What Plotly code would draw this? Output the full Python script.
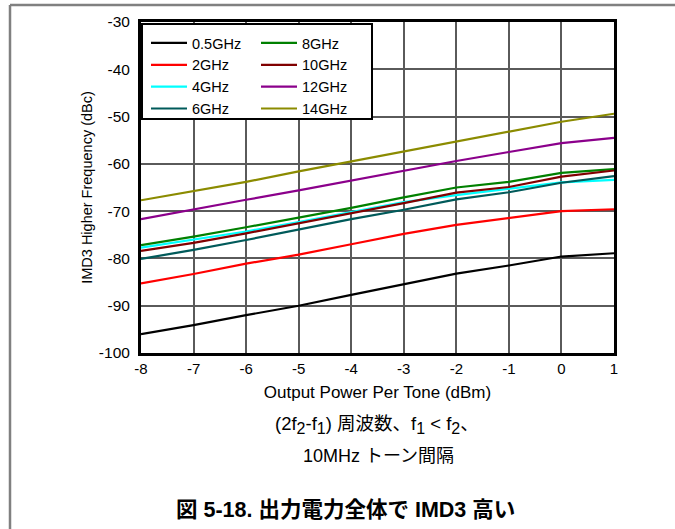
import plotly.graph_objects as go

x_dbm = [-8, -7, -6, -5, -4, -3, -2, -1, 0, 1]

series_names = ["0.5GHz", "2GHz", "4GHz", "6GHz", "8GHz", "10GHz", "12GHz", "14GHz"]
series_colors = ["#000000", "#ff0000", "#00ffff", "#005a5a", "#008000", "#800000", "#8b008b", "#8b8b00"]

imd3_05 = [-96.0, -94.1, -92.0, -90.0, -87.7, -85.4, -83.2, -81.5, -79.6, -78.9]
imd3_2 = [-85.3, -83.3, -81.1, -79.2, -77.0, -74.8, -72.9, -71.4, -70.0, -69.6]
imd3_4 = [-77.7, -76.0, -74.3, -72.3, -70.2, -68.1, -66.6, -65.3, -63.9, -63.4]
imd3_6 = [-80.1, -78.2, -76.1, -73.9, -71.7, -69.7, -67.5, -66.0, -64.0, -62.6]
imd3_8 = [-77.2, -75.4, -73.4, -71.4, -69.3, -67.1, -65.0, -63.8, -61.9, -61.1]
imd3_10 = [-78.4, -76.7, -74.7, -72.6, -70.4, -68.3, -66.1, -64.9, -62.7, -61.4]
imd3_12 = [-71.7, -69.6, -67.6, -65.6, -63.5, -61.4, -59.4, -57.5, -55.6, -54.5]
imd3_14 = [-67.7, -65.8, -63.8, -61.6, -59.5, -57.3, -55.3, -53.2, -51.1, -49.4]

all_series = [imd3_05, imd3_2, imd3_4, imd3_6, imd3_8, imd3_10, imd3_12, imd3_14]

x_ticks = [-8, -7, -6, -5, -4, -3, -2, -1, 0, 1]
y_ticks = [-100, -90, -80, -70, -60, -50, -40, -30]

FONT = "Liberation Sans, Arial, Noto Sans CJK JP, sans-serif"

fig = go.Figure()
for i, (name, color, vals) in enumerate(zip(series_names, series_colors, all_series)):
    fig.add_trace(go.Scatter(
        x=x_dbm, y=vals, mode="lines", name=name,
        line=dict(color=color, width=2.2),
        legend="legend" if i < 4 else "legend2",
    ))

W, H = 675, 529
L, R, T, B = 141, 61, 22, 176
pw = W - L - R
ph = H - T - B

def px_x(p):
    return (p - L) / pw

def px_y(p):
    return (H - B - p) / ph

shapes = [
    # legend box
    dict(type="rect", xref="paper", yref="paper",
         x0=px_x(142), x1=px_x(372), y0=px_y(119), y1=px_y(24),
         fillcolor="white", line=dict(color="black", width=2), layer="above"),
    # page frame lines
    dict(type="line", xref="paper", yref="paper",
         x0=px_x(10), x1=px_x(676), y0=px_y(5), y1=px_y(5),
         line=dict(color="#808080", width=2.5)),
    dict(type="line", xref="paper", yref="paper",
         x0=px_x(10), x1=px_x(10), y0=px_y(5), y1=px_y(530),
         line=dict(color="#808080", width=2.5)),
]

def sub(t):
    return "<sub><span style='font-size:16px'>" + t + "</span></sub>"

line1 = ("(2f" + sub("2") + "-f" + sub("1") + ")\u00a0周波数、f" + sub("1")
         + "\u00a0&lt;\u00a0f" + sub("2") + "、")

annotations = [
    dict(text=line1,
         xref="paper", yref="paper", x=px_x(377), y=px_y(425),
         xanchor="center", yanchor="middle", showarrow=False,
         font=dict(family=FONT, size=18.5, color="black")),
    dict(text="10MHz トーン間隔",
         xref="paper", yref="paper", x=px_x(378), y=px_y(456),
         xanchor="center", yanchor="middle", showarrow=False,
         font=dict(family=FONT, size=18, color="black")),
    dict(text="<b>図 5-18. 出力電力全体で IMD3 高い</b>",
         xref="paper", yref="paper", x=px_x(345), y=px_y(510),
         xanchor="center", yanchor="middle", showarrow=False,
         font=dict(family=FONT, size=21.5, color="black")),
]

legend_common = dict(
    bgcolor="rgba(0,0,0,0)", borderwidth=0,
    font=dict(family=FONT, size=14.5, color="black"),
    xanchor="left", yanchor="top", tracegroupgap=0, itemwidth=36,
)

fig.update_layout(
    width=W, height=H,
    margin=dict(l=L, r=R, t=T, b=B),
    paper_bgcolor="white", plot_bgcolor="white",
    font=dict(family=FONT, size=15, color="black"),
    showlegend=True,
    legend=dict(x=px_x(146), y=px_y(27), **legend_common),
    legend2=dict(x=px_x(256), y=px_y(27), **legend_common),
    shapes=shapes,
    annotations=annotations,
    xaxis=dict(
        range=[-8, 1], tickvals=x_ticks, ticktext=[str(v) for v in x_ticks],
        showgrid=True, gridcolor="#5a5a5a", gridwidth=1.5,
        showline=True, linecolor="black", linewidth=3, mirror=True,
        zeroline=False, ticks="", ticklen=0,
        tickfont=dict(family=FONT, size=15),
        title=dict(text="Output Power Per Tone (dBm)", standoff=11,
                   font=dict(family=FONT, size=17)),
    ),
    yaxis=dict(
        range=[-100, -30], tickvals=y_ticks, ticktext=[str(v) for v in y_ticks],
        showgrid=True, gridcolor="#5a5a5a", gridwidth=1.5,
        showline=True, linecolor="black", linewidth=3, mirror=True,
        zeroline=False, ticks="", ticklen=0, ticklabelstandoff=5,
        tickfont=dict(family=FONT, size=15.5),
        title=dict(text="IMD3 Higher Frequency (dBc)", standoff=3,
                   font=dict(family=FONT, size=14.5)),
    ),
)

fig.write_html("out.html", config={"displayModeBar": False},
               post_script="document.body.style.margin='0px';")
